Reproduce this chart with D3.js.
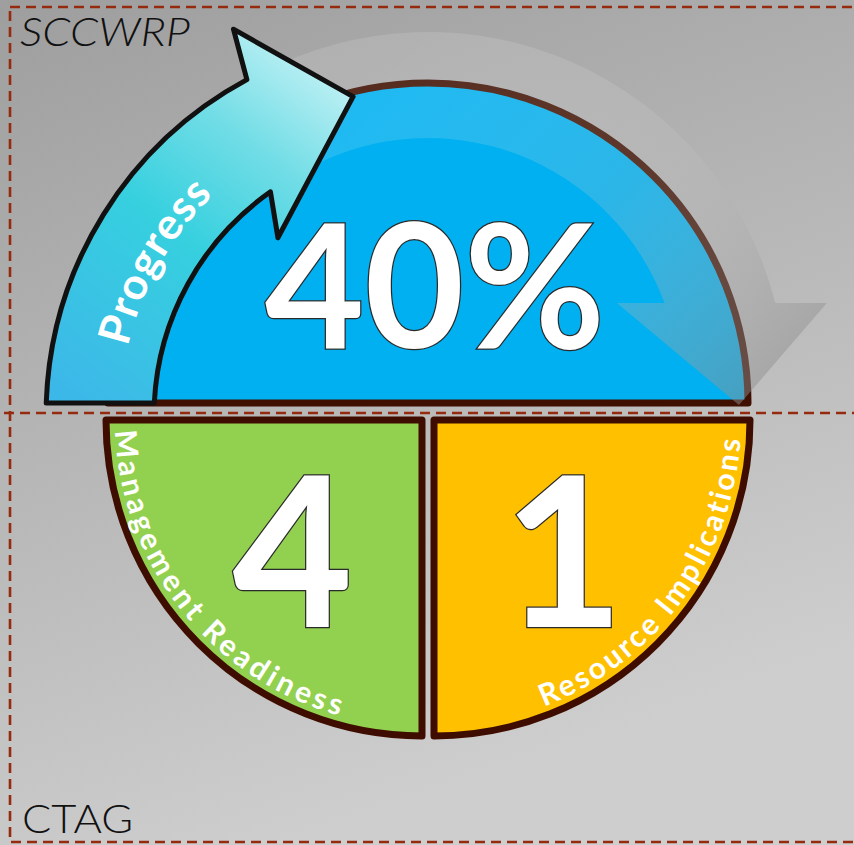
<!DOCTYPE html>
<html>
<head>
<meta charset="UTF-8">
<title>Progress dial</title>
<script src="https://d3js.org/d3.v7.min.js"></script>
<style>
  body { margin: 0; background: #fff; }
  svg { display: block; }
</style>
</head>
<body>
<div id="chart"></div>
<script>
// ---- data
var progressLabel = ["Progress"];
var progressPct = [40];
var quarterLabels = ["Resource Implications", "Management Readiness"];
var quarterScores = [1, 4];
var cornerLabels = ["SCCWRP", "CTAG"];

// ---- layout
var width = 854, height = 845;
var cx = 428, baseY = 403, R = 320;          // blue half disc
var qTop = 420, qR = 316, qGap = 6;          // lower quarter slices
var rad = Math.PI / 180;

var svg = d3.select("#chart").append("svg")
    .attr("width", width)
    .attr("height", height);
var defs = svg.append("defs");

function grad(id, attrs, stops) {
    var g = defs.append("linearGradient").attr("id", id);
    Object.keys(attrs).forEach(function(k) { g.attr(k, attrs[k]); });
    stops.forEach(function(s) {
        g.append("stop").attr("offset", s[0]).attr("stop-color", s[1])
            .attr("stop-opacity", s[2] == null ? 1 : s[2]);
    });
}
grad("bgGrad", {x1: 0, y1: 0, x2: 0.35, y2: 1},
    [[0, "#9e9e9e"], [1, "#cecece"]]);
grad("progGrad", {gradientUnits: "userSpaceOnUse", x1: 80, y1: 400, x2: 340, y2: 60},
    [[0, "#3cb8e8"], [0.45, "#36d0df"], [0.72, "#72dde6"], [1, "#c8f3f6"]]);
grad("ghostGrad", {gradientUnits: "userSpaceOnUse", x1: 420, y1: 40, x2: 760, y2: 400},
    [[0, "#ffffff", 0.12], [0.5, "#c8c8c8", 0.22], [1, "#8c8c8c", 0.5]]);

// polar helper, d3 angle convention (0 = north, clockwise)
function polar(c, deg, r) {
    return [c[0] + r * Math.sin(deg * rad), c[1] - r * Math.cos(deg * rad)];
}
function cv(deg) { return (deg - 90) * rad; }  // to canvas angle

// background
svg.append("rect").attr("width", width).attr("height", height).attr("fill", "url(#bgGrad)");

// blue half disc
var halfArc = d3.arc()({innerRadius: 0, outerRadius: R, startAngle: -Math.PI / 2, endAngle: Math.PI / 2});
svg.append("path")
    .attr("d", halfArc)
    .attr("transform", "translate(" + cx + "," + baseY + ")")
    .attr("fill", "#00b0f0")
    .attr("stroke", "#3f0f00")
    .attr("stroke-width", 7)
    .attr("stroke-linejoin", "round");

// ghost arrow running round the dial
var gc = [428, 390], gRi = 252, gRo = 358, gStart = -28, headY = 303;
var gEndO = Math.acos((gc[1] - headY) / gRo) / rad;
var gEndI = Math.acos((gc[1] - headY) / gRi) / rad;
var gO = polar(gc, gEndO, gRo), gI = polar(gc, gEndI, gRi);
var gMid = (gO[0] + gI[0]) / 2;
var gp = d3.path();
var s0 = polar(gc, gStart, gRo);
gp.moveTo(s0[0], s0[1]);
gp.arc(gc[0], gc[1], gRo, cv(gStart), cv(gEndO), false);
gp.lineTo(gMid + 107, headY);
gp.lineTo(gMid + 19, headY + 102);
gp.lineTo(gMid - 103, headY);
gp.lineTo(gI[0], gI[1]);
gp.arc(gc[0], gc[1], gRi, cv(gEndI), cv(gStart), true);
gp.closePath();
svg.append("path").attr("d", gp.toString()).attr("fill", "url(#ghostGrad)");

// lower quarters
var pie = d3.pie().sort(null).value(function() { return 1; })
    .startAngle(Math.PI / 2).endAngle(Math.PI * 1.5);
var slices = pie(quarterScores);
var color = d3.scaleOrdinal(quarterLabels, ["#ffc000", "#92d050"]);
var qArc = d3.arc().innerRadius(0).outerRadius(qR);

var q = svg.selectAll("g.quarter")
    .data(slices)
    .enter().append("g")
    .attr("class", "quarter")
    .attr("transform", function(d, i) {
        return "translate(" + (cx + (i === 0 ? qGap : -qGap)) + "," + qTop + ")";
    });
q.append("path")
    .attr("d", qArc)
    .attr("fill", function(d, i) { return color(quarterLabels[i]); })
    .attr("stroke", "#3f0d00")
    .attr("stroke-width", 7)
    .attr("stroke-linejoin", "round");

// label paths along each quarter's rim (baseline inside the rim)
var labelSpan = [[159, 93], [268, 195]];
q.append("path")
    .attr("id", function(d, i) { return "qpath" + i; })
    .attr("fill", "none")
    .attr("d", function(d, i) {
        var p = d3.path(), r = qR - 9;
        var a = polar([0, 0], labelSpan[i][0], r);
        p.moveTo(a[0], a[1]);
        p.arc(0, 0, r, cv(labelSpan[i][0]), cv(labelSpan[i][1]), true);
        return p.toString();
    });
q.append("text")
    .attr("class", "qlabel")
    .attr("font-family", "Lato, 'Open Sans', sans-serif")
    .attr("font-weight", 700)
    .attr("font-size", 30)
    .attr("fill", "#fff")
    .append("textPath")
    .attr("href", function(d, i) { return "#qpath" + i; })
    .text(function(d, i) { return quarterLabels[i]; });

// big scores
var numArc = d3.arc().innerRadius(0).outerRadius(366);
q.append("text")
    .attr("x", function(d) { return numArc.centroid(d)[0]; })
    .attr("y", function(d) { return numArc.centroid(d)[1] + 78; })
    .attr("text-anchor", "middle")
    .attr("font-family", "Lato, 'Open Sans', sans-serif")
    .attr("font-weight", 700)
    .attr("font-size", 208)
    .attr("fill", "#fff")
    .attr("stroke", "#2a2a2a")
    .attr("stroke-width", 2.5)
    .attr("paint-order", "stroke")
    .text(function(d) { return d.data; });

// progress arrow
var ac = [428, 416], aRi = 274, aRo = 382;
function baseAngle(r) { return Math.atan2(-Math.sqrt(r * r - (ac[1] - baseY) * (ac[1] - baseY)), ac[1] - baseY) / rad; }
var aStartO = baseAngle(aRo), aStartI = baseAngle(aRi);
var head = {notchO: -28.3, notchI: -35.1, barbO: [-26.7, 433], barbI: [-40.1, 233], tip: [-13.2, 328]};
var ap = d3.path();
var b0 = polar(ac, aStartO, aRo);
ap.moveTo(b0[0], b0[1]);
ap.arc(ac[0], ac[1], aRo, cv(aStartO), cv(head.notchO), false);
[head.barbO, head.tip, head.barbI].forEach(function(h) {
    var pt = polar(ac, h[0], h[1]);
    ap.lineTo(pt[0], pt[1]);
});
var ni = polar(ac, head.notchI, aRi);
ap.lineTo(ni[0], ni[1]);
ap.arc(ac[0], ac[1], aRi, cv(head.notchI), cv(aStartI), true);
ap.closePath();
svg.append("path")
    .attr("d", ap.toString())
    .attr("fill", "url(#progGrad)")
    .attr("stroke", "#111")
    .attr("stroke-width", 5)
    .attr("stroke-linejoin", "round");

var pp = d3.path(), pr = 308;
var ps = polar(ac, -77, pr);
pp.moveTo(ps[0], ps[1]);
pp.arc(ac[0], ac[1], pr, cv(-77), cv(-44), false);
defs.append("path").attr("id", "progPath").attr("d", pp.toString());
svg.append("text")
    .attr("class", "plabel")
    .attr("font-family", "Lato, 'Open Sans', sans-serif")
    .attr("font-weight", 700)
    .attr("font-size", 44)
    .attr("fill", "#fff")
    .append("textPath")
    .attr("href", "#progPath")
    .text(progressLabel[0]);

// percentage
svg.append("text")
    .attr("x", cx + 7)
    .attr("y", baseY - 55)
    .attr("text-anchor", "middle")
    .attr("font-family", "Lato, 'Open Sans', sans-serif")
    .attr("font-weight", 700)
    .attr("font-size", 172)
    .attr("fill", "#fff")
    .attr("stroke", "#2a2a2a")
    .attr("stroke-width", 2.5)
    .attr("paint-order", "stroke")
    .text(progressPct[0] + "%");

// stretch curved labels to fill their arcs
function fit(sel, pathSel) {
    sel.each(function() {
        var t = d3.select(this);
        var p = pathSel(this);
        var target = p.getTotalLength();
        var n = t.text().length;
        var natural = this.getComputedTextLength();
        t.attr("letter-spacing", Math.max(0, (target - natural) / n));
    });
}
fit(svg.selectAll("text.qlabel"), function(el) { return el.parentNode.querySelector("path[id]"); });
fit(svg.selectAll("text.plabel"), function() { return document.getElementById("progPath"); });

// corner captions
svg.append("text")
    .attr("x", 20).attr("y", 46)
    .attr("font-family", "Lato, sans-serif")
    .attr("font-weight", 300)
    .attr("font-style", "italic")
    .attr("font-size", 40)
    .attr("fill", "#111")
    .attr("textLength", 170)
    .attr("lengthAdjust", "spacingAndGlyphs")
    .text(cornerLabels[0]);
svg.append("text")
    .attr("x", 22).attr("y", 833)
    .attr("font-family", "Lato, sans-serif")
    .attr("font-weight", 300)
    .attr("font-size", 40)
    .attr("fill", "#111")
    .attr("textLength", 111)
    .attr("lengthAdjust", "spacingAndGlyphs")
    .text(cornerLabels[1]);

// dashed frame
svg.append("rect")
    .attr("x", 10).attr("y", 7)
    .attr("width", 900).attr("height", 835)
    .attr("fill", "none")
    .attr("stroke", "#962a0e")
    .attr("stroke-width", 2.6)
    .attr("stroke-dasharray", "10 6");
svg.append("line")
    .attr("x1", 4).attr("x2", width)
    .attr("y1", 413).attr("y2", 413)
    .attr("stroke", "#962a0e")
    .attr("stroke-width", 2.6)
    .attr("stroke-dasharray", "10 6");
</script>
</body>
</html>
